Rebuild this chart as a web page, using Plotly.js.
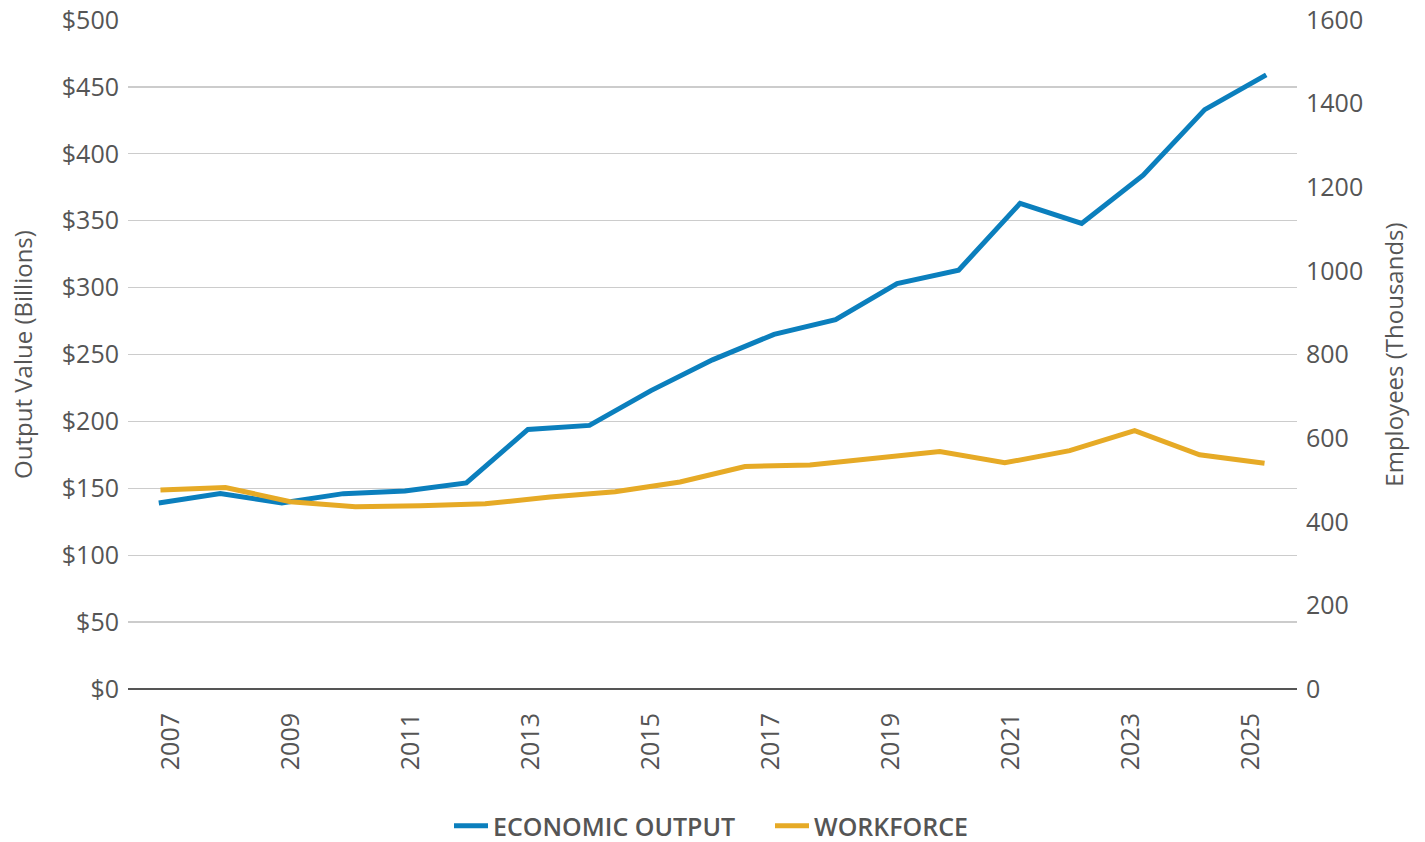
<!DOCTYPE html>
<html>
<head>
<meta charset="utf-8">
<script src="https://cdn.plot.ly/plotly-3.0.1.min.js"></script>
<style>html,body{margin:0;padding:0;background:#fff;}#chart{width:1425px;height:842px;}</style>
</head>
<body>
<div id="chart"></div>
<script>
// Economic output (billions USD), 2007-2025
const years = [2007,2008,2009,2010,2011,2012,2013,2014,2015,2016,2017,2018,2019,2020,2021,2022,2023,2024,2025];
const outputValues = [139,146,139,146,148,154,194,197,223,246,265,276,303,313,363,348,384,433,459];
// Workforce (thousands of employees), 18 points drawn across the same width
const workforceValues = [476,482,448,436,438,443,459,472,495,532,536,552,568,541,570,618,560,540];
const workforcePos = workforceValues.map((_, i) => i);
const tickYears = [2007,2009,2011,2013,2015,2017,2019,2021,2023,2025];
const leftTicks = [0,50,100,150,200,250,300,350,400,450,500];
const leftTickText = leftTicks.map(v => '$' + v);

const FONT = 'Open Sans, Lato, sans-serif';
const GREY = '#555555';

// label placement along the category axis (slightly compressed, as in the source)
const tickPos = tickYears.map(y => 2007.2 + (y - 2007) * 0.975);

const traces = [
  {x: years, y: outputValues, type: 'scatter', mode: 'lines', name: 'ECONOMIC OUTPUT',
   line: {color: '#0b7fbd', width: 5}, xaxis: 'x', yaxis: 'y'},
  {x: workforcePos, y: workforceValues, type: 'scatter', mode: 'lines', name: 'WORKFORCE',
   line: {color: '#e6aa26', width: 5}, xaxis: 'x2', yaxis: 'y2'}
];

const layout = {
  width: 1425, height: 842,
  margin: {l: 128, r: 128, t: 20, b: 153},
  paper_bgcolor: '#fff', plot_bgcolor: '#fff',
  font: {family: FONT, color: GREY},
  showlegend: true,
  legend: {orientation: 'h', x: 449 / 1425, xanchor: 'left', xref: 'container',
           y: 16 / 842, yanchor: 'middle', yref: 'container', entrywidth: 272, entrywidthmode: 'pixels',
           font: {size: 25, color: GREY, weight: 600, family: FONT}, itemwidth: 34, traceorder: 'normal'},
  xaxis: {type: 'linear', range: [2006.5, 2025.5], tickmode: 'array', tickvals: tickPos,
          ticktext: tickYears.map(String), tickangle: -90, showgrid: false, zeroline: false,
          showline: false, ticks: '', tickfont: {size: 25, color: GREY, family: FONT},
          ticklabelstandoff: 18, automargin: false, fixedrange: true},
  xaxis2: {type: 'linear', range: [-0.5, workforceValues.length - 0.5], overlaying: 'x',
           visible: false, automargin: false, fixedrange: true},
  yaxis: {range: [0, 500], tickmode: 'array', tickvals: leftTicks, ticktext: leftTickText,
          showgrid: true, gridcolor: '#cccccc', gridwidth: 1.3,
          zeroline: true, zerolinecolor: '#555555', zerolinewidth: 2.5,
          ticks: '', tickfont: {size: 25, color: GREY, family: FONT}, ticklabelstandoff: 8,
          title: {text: 'Output Value (Billions)', font: {size: 24, color: GREY, family: FONT}, standoff: 22},
          automargin: false, fixedrange: true},
  yaxis2: {range: [0, 1600], dtick: 200, overlaying: 'y', side: 'right', showgrid: false,
           zeroline: false, ticks: '', tickfont: {size: 25, color: GREY, family: FONT}, ticklabelstandoff: 8,
           title: {text: 'Employees (Thousands)', font: {size: 24, color: GREY, family: FONT}, standoff: 24},
           automargin: false, fixedrange: true}
};

Plotly.newPlot('chart', traces, layout, {displayModeBar: false, staticPlot: true});
</script>
</body>
</html>
